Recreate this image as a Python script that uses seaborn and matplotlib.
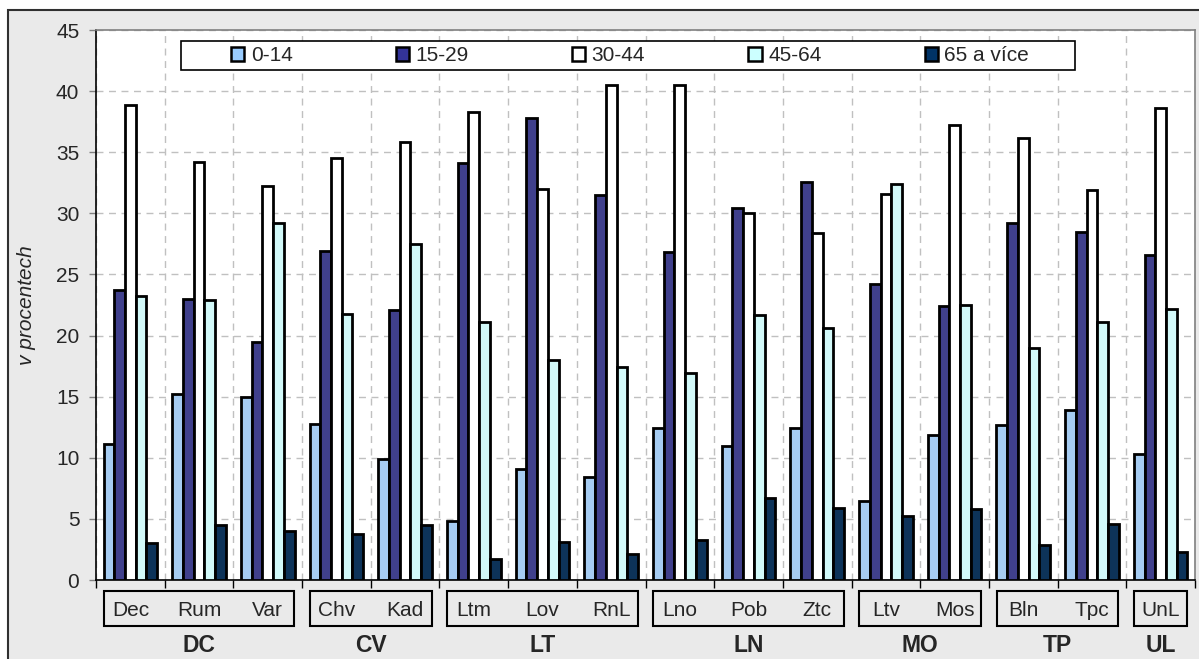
import matplotlib
matplotlib.use("Agg")
import matplotlib.pyplot as plt
from matplotlib.patches import Rectangle, Patch
import seaborn as sns
import pandas as pd

sns.set_style("white")
plt.rcParams['font.family'] = ['Liberation Sans', 'DejaVu Sans']

districts = ["Dec", "Rum", "Var", "Chv", "Kad", "Ltm", "Lov", "RnL",
             "Lno", "Pob", "Ztc", "Ltv", "Mos", "Bln", "Tpc", "UnL"]
regions = ["DC", "CV", "LT", "LN", "MO", "TP", "UL"]
region_sizes = [3, 2, 3, 3, 2, 2, 1]
age_groups = ["0-14", "15-29", "30-44", "45-64", "65 a více"]

v0_14 = [11.1, 15.2, 15.0, 12.8, 9.9, 4.8, 9.1, 8.4, 12.4, 11.0, 12.4, 6.5, 11.9, 12.7, 13.9, 10.3]
v15_29 = [23.7, 23.0, 19.5, 26.9, 22.1, 34.1, 37.8, 31.5, 26.8, 30.4, 32.6, 24.2, 22.4, 29.2, 28.5, 26.6]
v30_44 = [38.9, 34.2, 32.2, 34.5, 35.8, 38.3, 32.0, 40.5, 40.5, 30.0, 28.4, 31.6, 37.2, 36.2, 31.9, 38.6]
v45_64 = [23.2, 22.9, 29.2, 21.8, 27.5, 21.1, 18.0, 17.4, 16.9, 21.7, 20.6, 32.4, 22.5, 19.0, 21.1, 22.2]
v65 = [3.0, 4.5, 4.0, 3.8, 4.5, 1.7, 3.1, 2.1, 3.3, 6.7, 5.9, 5.2, 5.8, 2.9, 4.6, 2.3]

colors = ["#99ccff", "#333399", "#ffffff", "#ccffff", "#003366"]

series = [v0_14, v15_29, v30_44, v45_64, v65]
rows = []
for g, vals in zip(age_groups, series):
    for d, v in zip(districts, vals):
        rows.append({"district": d, "age": g, "value": v})
df = pd.DataFrame(rows)

W, H = 1199, 659
fig = plt.figure(figsize=(W / 100, H / 100), dpi=100)
fig.patch.set_facecolor("white")
bg = Rectangle((8 / W, -0.02), 1.05, (H - 10) / H + 0.02,
               transform=fig.transFigure, facecolor="#eaeaea",
               edgecolor="#303030", linewidth=1.5, zorder=-10)
fig.patches.append(bg)

ax = fig.add_axes([96 / W, (H - 580) / H, (1195 - 96) / W, 550 / H])
ax.set_zorder(1)
ax.set_facecolor("white")

sns.barplot(data=df, x="district", y="value", hue="age", order=districts,
            hue_order=age_groups, palette=dict(zip(age_groups, colors)),
            edgecolor="black", linewidth=2.0, width=0.78, ax=ax,
            legend=False, zorder=3)

ax.set_xlim(-0.5, len(districts) - 0.5)
ax.set_ylim(0, 45)
ax.set_yticks(range(0, 46, 5))
ax.tick_params(axis="y", labelsize=15, length=5, width=1, color="#808080",
               pad=7, direction="out", left=True)
ax.set_xticks(range(len(districts)))
ax.set_xticklabels([])
ax.tick_params(axis="x", which="major", length=0)
ax.set_xticks([i + 0.5 for i in range(-1, len(districts))], minor=True)
ax.tick_params(axis="x", which="minor", length=6, width=1, color="black", direction="out", bottom=True)

ax.grid(axis="y", which="major", linestyle=(0, (5, 4)), color="#c0c0c0", linewidth=1, zorder=0)
ax.grid(axis="x", which="minor", linestyle=(0, (5, 4)), color="#c0c0c0", linewidth=1, zorder=0)
ax.grid(axis="x", which="major", visible=False)
ax.set_axisbelow(True)

for s in ["top", "right"]:
    ax.spines[s].set_color("#808080")
    ax.spines[s].set_linewidth(1.2)
for s in ["left", "bottom"]:
    ax.spines[s].set_color("black")
    ax.spines[s].set_linewidth(1.2)

ax.set_xlabel("")
ax.set_ylabel("v procentech", fontsize=15, style="italic")
ax.yaxis.set_label_coords((36 - 96) / 1099, 0.5)

# category labels and region boxes
tr = ax.get_xaxis_transform()
for i, d in enumerate(districts):
    ax.text(i, -(610 - 580) / 550, d, transform=tr, ha="center", va="center",
            fontsize=15, clip_on=False)
start = 0
for reg, n in zip(regions, region_sizes):
    x0 = start - 0.5 + 0.115
    x1 = start + n - 0.5 - 0.115
    ax.add_patch(Rectangle((x0, -(626 - 580) / 550), x1 - x0, 35 / 550, transform=tr,
                           facecolor="none", edgecolor="black", linewidth=1.5,
                           clip_on=False))
    ax.text(start + (n - 1) / 2, -(646 - 580) / 550, reg, transform=tr, ha="center",
            va="center", fontsize=16.5, fontweight="bold", clip_on=False)
    start += n

# legend
ax.add_patch(Rectangle(((181 - 96) / 1099, (580 - 70) / 550), (1075 - 181) / 1099, 29 / 550,
                       transform=ax.transAxes, facecolor="white", edgecolor="black",
                       linewidth=1.2, zorder=5))
handles = [Patch(facecolor=c, edgecolor="black", linewidth=1.8) for c in colors]
leg = ax.legend(handles, age_groups, loc="center",
                bbox_to_anchor=((630 - 96) / 1099, (580 - 55.5) / 550),
                ncol=5, frameon=False, fontsize=15, handlelength=0.65, handleheight=0.65,
                handletextpad=0.3, columnspacing=4.95, borderpad=0.1)
leg.set_zorder(6)

fig.savefig("out.png", dpi=100, facecolor=fig.get_facecolor())
